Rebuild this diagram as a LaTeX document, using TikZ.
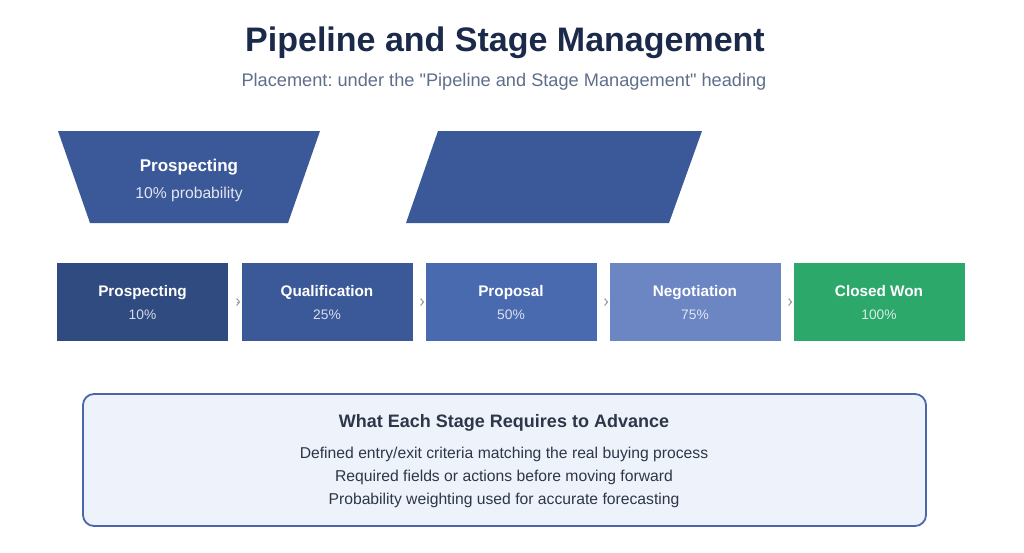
\documentclass[tikz,border=0pt]{standalone}
\usepackage{fontspec}
\setmainfont{Liberation Sans}
\newfontfamily\plainquotes{Liberation Sans}[Ligatures=TeXOff]
\usetikzlibrary{arrows.meta,positioning,calc}
\pgfdeclarelayer{background}
\pgfsetlayers{background,main}
\definecolor{titlec}{HTML}{1B2A4A}
\definecolor{subc}{HTML}{5F6F8A}
\definecolor{bandc}{HTML}{3B5998}
\definecolor{sA}{HTML}{2F4B80}
\definecolor{sB}{HTML}{3B5998}
\definecolor{sC}{HTML}{4A6AB0}
\definecolor{sD}{HTML}{6B86C3}
\definecolor{sE}{HTML}{2BA86A}
\definecolor{panelfill}{HTML}{EEF2FB}
\definecolor{panelline}{HTML}{4A67AA}
\definecolor{paneltext}{HTML}{2D3748}
\definecolor{arrowc}{HTML}{9AA0AA}
\frenchspacing
\tikzset{
  txt/.style={anchor=base,inner sep=0pt},
  stagebox/.style={minimum width=171pt,minimum height=78pt,inner sep=0pt,draw=none},
  stagename/.style={txt,text=white,font=\fontsize{15.3}{18}\selectfont\bfseries},
  stagepct/.style={txt,text=white,opacity=0.8,font=\fontsize{13.8}{17}\selectfont},
  stagearrow/.style={draw=arrowc,line width=0.05pt,-{Straight Barb[length=3pt,width=7pt,line width=1.1pt]},shorten <=9pt,shorten >=1pt},
}
\begin{document}
\begin{tikzpicture}[x=1pt,y=-1pt]
\useasboundingbox (0,0) rectangle (1024,552);
% title
\node[txt,text=titlec,font=\fontsize{34}{40}\selectfont\bfseries] (title) at (505,51) {Pipeline and Stage Management};
\node[txt,text=subc,font=\plainquotes\fontsize{18.2}{21}\selectfont] (sub) at (504,86) {Placement: under the "Pipeline and Stage Management" heading};
% trapezoid and parallelogram
\fill[bandc] (58,131) -- (320,131) -- (288,223) -- (90,223) -- cycle;
\fill[bandc] (438,131) -- (702,131) -- (669,223) -- (406,223) -- cycle;
\node[txt,text=white,font=\fontsize{17}{20}\selectfont\bfseries] (tz1) at (189,171) {Prospecting};
\node[txt,text=white,opacity=0.85,font=\fontsize{15.7}{18}\selectfont] (tz2) at (189,198) {10\% probability};
% stage boxes
\node[stagebox,fill=sA] (b1) at (142.5,302) {};
\node[stagebox,fill=sB] (b2) at (327,302) {};
\node[stagebox,fill=sC] (b3) at (511,302) {};
\node[stagebox,fill=sD] (b4) at (695,302) {};
\node[stagebox,fill=sE] (b5) at (879,302) {};
\foreach \b/\n/\p in {b1/Prospecting/10\%,b2/Qualification/25\%,b3/Proposal/50\%,b4/Negotiation/75\%,b5/Closed Won/100\%}{
  \node[stagename] (\b n) at ($(\b.center)+(0,-6)$) {\n};
  \node[stagepct] (\b p) at ($(\b.center)+(0,17.5)$) {\p};
}
\begin{pgfonlayer}{background}
\fill[white] (0,0) rectangle (1024,552);
\foreach \a/\c in {b1/b2,b2/b3,b3/b4,b4/b5}{
  \draw[stagearrow] (\a.east) -- (\c.west);
}
\end{pgfonlayer}
% panel
\draw[draw=panelline,line width=1.8pt,fill=panelfill,rounded corners=11pt] (83,394) rectangle (926,526);
\node[txt,text=paneltext,font=\fontsize{18}{21}\selectfont\bfseries] (ph) at (504,427) {What Each Stage Requires to Advance};
\node[txt,text=paneltext,font=\fontsize{15.7}{18}\selectfont] (p1) at (504,458) {Defined entry/exit criteria matching the real buying process};
\node[txt,text=paneltext,font=\fontsize{15.7}{18}\selectfont] (p2) at (504,481) {Required fields or actions before moving forward};
\node[txt,text=paneltext,font=\fontsize{15.7}{18}\selectfont] (p3) at (504,504) {Probability weighting used for accurate forecasting};
\end{tikzpicture}
\end{document}
